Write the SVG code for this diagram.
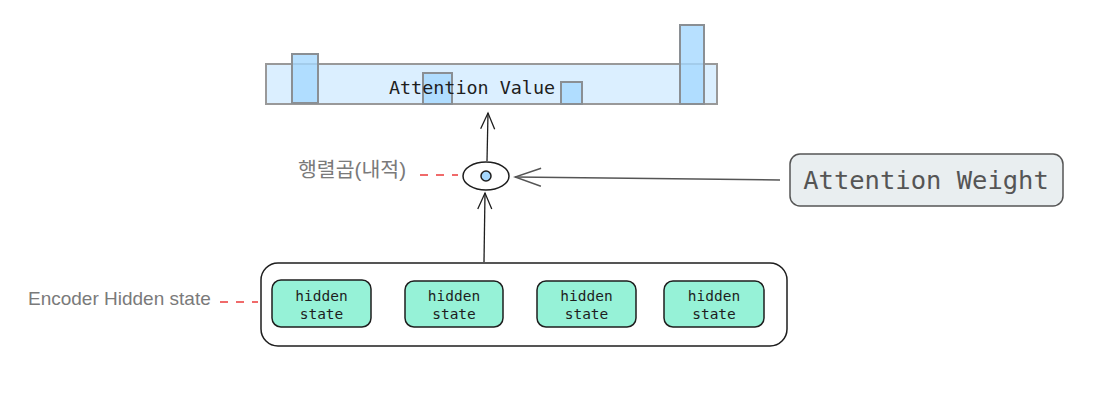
<svg xmlns="http://www.w3.org/2000/svg" width="1101" height="412" viewBox="0 0 1101 412">
<defs>
<style>
.mono{font-family:"DejaVu Sans Mono","Liberation Mono",monospace;}
.sans{font-family:"Liberation Sans",Arial,sans-serif;}
.bar{fill:#a5d8ff;fill-opacity:0.8;stroke:#8a8f94;stroke-width:2;}
.hs{fill:#96f2d7;stroke:#1e1e1e;stroke-width:1.5;}
.hst{font-size:14.5px;fill:#1e1e1e;text-anchor:middle;}
.conn{stroke:#1e1e1e;stroke-width:1.3;fill:none;}
.dash{stroke:#f06a6a;stroke-width:2;stroke-dasharray:8 8;fill:none;}
.lbl{fill:#7a7a7a;font-size:19px;}
</style>
<marker id="ah" viewBox="0 0 20 20" refX="18" refY="10" markerWidth="20" markerHeight="20" markerUnits="userSpaceOnUse" orient="auto">
<path d="M2,3 L18,10 L2,17" fill="none" stroke="#1e1e1e" stroke-width="1.3"/>
</marker>
<marker id="ah2" viewBox="0 0 30 30" refX="28" refY="15" markerWidth="30" markerHeight="30" markerUnits="userSpaceOnUse" orient="auto">
<path d="M2,6 L28,15 L2,24" fill="none" stroke="#555" stroke-width="1.5"/>
</marker>
</defs>
<rect width="1101" height="412" fill="#ffffff"/>

<g id="attention-value">
<rect x="266" y="64" width="451" height="40" fill="#a5d8ff" fill-opacity="0.4" stroke="#999" stroke-width="2"/>
<rect class="bar" x="292" y="54" width="26" height="49"/>
<rect class="bar" x="423" y="73" width="29" height="31"/>
<rect class="bar" x="561" y="82" width="21" height="22"/>
<rect class="bar" x="680" y="25" width="24" height="79"/>
<text class="mono" x="472" y="94" font-size="18.4" fill="#1e1e1e" text-anchor="middle">Attention Value</text>
</g>

<g id="matmul">
<ellipse cx="486" cy="176" rx="23" ry="14" fill="#ffffff" stroke="#1e1e1e" stroke-width="1.5"/>
<circle cx="486" cy="176" r="5" fill="#a5d8ff" stroke="#1e1e1e" stroke-width="1.5"/>
</g>

<g id="matmul-label">
<text x="298" y="177" fill="#7a7a7a" font-size="20.5" font-family="'Liberation Sans','Noto Sans CJK KR',sans-serif">행렬곱(내적)</text>
<line class="dash" x1="420" y1="175" x2="458" y2="175"/>
</g>

<g id="attention-weight">
<rect x="790" y="154" width="273" height="52" rx="10" fill="#e9eef0" stroke="#555" stroke-width="1.5"/>
<text class="mono" x="926" y="189" font-size="25.5" fill="#555" text-anchor="middle">Attention Weight</text>
</g>

<g id="encoder-label">
<text class="sans lbl" x="28" y="305">Encoder Hidden state</text>
<line class="dash" x1="220" y1="302" x2="258" y2="302"/>
</g>

<g id="encoder">
<rect x="261" y="263" width="526" height="83" rx="17" fill="#ffffff" stroke="#1e1e1e" stroke-width="1.5"/>
</g>
<g id="hs1"><rect class="hs" x="272" y="280" width="99" height="47" rx="9"/><text class="mono hst" x="321.5" y="301">hidden</text><text class="mono hst" x="321.5" y="319">state</text></g>
<g id="hs2"><rect class="hs" x="405" y="281" width="98" height="46" rx="9"/><text class="mono hst" x="454" y="301">hidden</text><text class="mono hst" x="454" y="319">state</text></g>
<g id="hs3"><rect class="hs" x="537" y="281" width="99" height="46" rx="9"/><text class="mono hst" x="586.5" y="301">hidden</text><text class="mono hst" x="586.5" y="319">state</text></g>
<g id="hs4"><rect class="hs" x="664" y="281" width="100" height="46" rx="9"/><text class="mono hst" x="714" y="301">hidden</text><text class="mono hst" x="714" y="319">state</text></g>

<g id="connectors">
<path class="conn" d="M487,161 L488,113" marker-end="url(#ah)"/>
<path class="conn" d="M484,262 L485,193" marker-end="url(#ah)"/>
<path d="M780,180 L515,177" stroke="#555" stroke-width="1.5" fill="none" marker-end="url(#ah2)"/>
</g>
</svg>
